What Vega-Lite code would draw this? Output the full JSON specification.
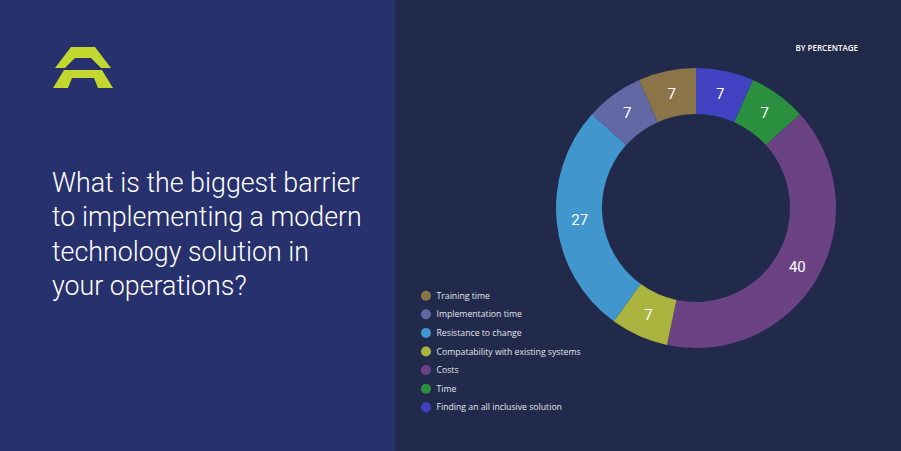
{
  "$schema": "https://vega.github.io/schema/vega-lite/v6.json",
  "background": "#212a4b",
  "padding": 0,
  "spacing": 96,
  "bounds": "flush",
  "config": {"view": {"stroke": null}},
  "hconcat": [
    {
      "width": 395,
      "height": 451,
      "view": {"fill": "#27316e", "stroke": null},
      "title": {
        "text": ["What is the biggest barrier", "to implementing a modern", "technology solution in", "your operations?"],
        "anchor": "start",
        "frame": "group",
        "orient": "top",
        "offset": -301,
        "dx": 52,
        "font": "Roboto",
        "fontSize": 26.8,
        "fontWeight": 300,
        "color": "#ffffff",
        "lineHeight": 34.5
      },
      "data": {"values": [{"item": "logo"}]},
      "mark": {
        "type": "point",
        "shape": "M-0.4,-0.683L0.4,-0.683L0.933,0.017L0.6,0.017L0.267,-0.317L-0.267,-0.317L-0.6,0.017L-0.933,0.017ZM-0.633,0.083L0.633,0.083L1,0.683L0.5,0.683L0.367,0.35L-0.367,0.35L-0.5,0.683L-1,0.683Z",
        "filled": true,
        "fill": "#c2d82f",
        "size": 3600,
        "opacity": 1,
        "strokeWidth": 0
      },
      "encoding": {"x": {"value": 83}, "y": {"value": 67.5}}
    },
    {
      "width": 410,
      "height": 416,
      "title": {
        "text": "BY PERCENTAGE",
        "anchor": "end",
        "frame": "group",
        "orient": "top",
        "offset": -53,
        "dx": -43,
        "font": "Open Sans",
        "fontSize": 8,
        "fontWeight": 600,
        "color": "#ffffff"
      },
      "data": {
        "values": [
          {"category": "Finding an all inclusive solution", "percent": 6.67, "ord": 1},
          {"category": "Time", "percent": 6.67, "ord": 2},
          {"category": "Costs", "percent": 40, "ord": 3},
          {"category": "Compatability with existing systems", "percent": 6.67, "ord": 4},
          {"category": "Resistance to change", "percent": 26.67, "ord": 5},
          {"category": "Implementation time", "percent": 6.67, "ord": 6},
          {"category": "Training time", "percent": 6.67, "ord": 7}
        ]
      },
      "encoding": {
        "theta": {"field": "percent", "type": "quantitative", "stack": true},
        "order": {"field": "ord", "type": "quantitative"}
      },
      "layer": [
        {
          "mark": {"type": "arc", "outerRadius": 140, "innerRadius": 94, "strokeWidth": 0},
          "encoding": {
            "color": {
              "field": "category",
              "type": "nominal",
              "scale": {
                "domain": ["Finding an all inclusive solution", "Time", "Costs", "Compatability with existing systems", "Resistance to change", "Implementation time", "Training time"],
                "range": ["#4142c2", "#2a8f3e", "#6b4385", "#aab43e", "#4197cd", "#6168a3", "#8a7448"]
              },
              "legend": {
                "title": null,
                "orient": "none",
                "legendX": 421,
                "legendY": 290.7,
                "values": ["Training time", "Implementation time", "Resistance to change", "Compatability with existing systems", "Costs", "Time", "Finding an all inclusive solution"],
                "symbolType": "circle",
                "symbolSize": 100,
                "symbolStrokeWidth": 0,
                "labelFont": "Open Sans",
                "labelFontSize": 8.7,
                "labelColor": "#e4e4ec",
                "labelOffset": 5.5,
                "rowPadding": 8.6,
                "padding": 0,
                "labelLimit": 300
              }
            }
          }
        },
        {
          "mark": {"type": "text", "radius": 117, "fontSize": 15, "font": "Roboto", "fill": "#ffffff"},
          "encoding": {"text": {"field": "percent", "type": "quantitative", "format": ".0f"}}
        }
      ]
    }
  ]
}
